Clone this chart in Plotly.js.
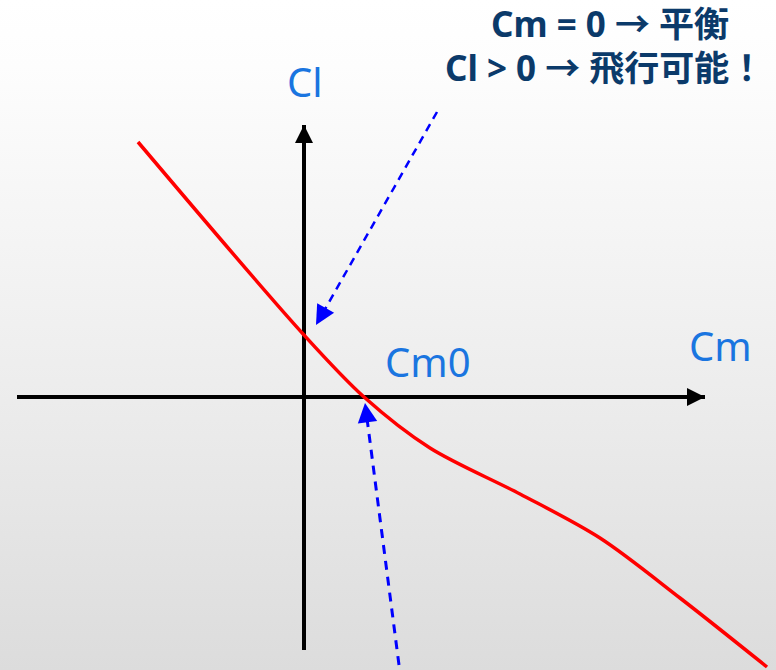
<!DOCTYPE html>
<html>
<head>
<meta charset="utf-8">
<script src="https://cdn.plot.ly/plotly-3.0.1.min.js"></script>
<style>
html,body{margin:0;padding:0;}
body{width:776px;height:670px;background:linear-gradient(to bottom,#ffffff 0%,#fdfdfd 10%,#ececec 60%,#dcdcdc 100%);}
#chart{width:776px;height:670px;}
</style>
</head>
<body>
<div id="chart"></div>
<script>
// Cm / Cl curve (arbitrary units)
const curveCm = [-1.66,0.00,0.60,1.26,2.16,2.96,3.76,4.63];
const curveCl = [2.55,0.62,0.00,-0.51,-0.97,-1.41,-2.01,-2.70];

// axes (start, tip)
const hAxisCm = [-2.87, 4.01];
const hAxisCl = [0, 0];
const vAxisCm = [0, 0];
const vAxisCl = [-2.53, 2.72];

// pointer arrows (start, tip)
const ptr1Cm = [1.33, 0.12];
const ptr1Cl = [2.85, 0.72];
const ptr2Cm = [0.95, 0.61];
const ptr2Cl = [-2.68, -0.06];

const labels = {cl:"Cl", cm:"Cm", cm0:"Cm0"};
const note1 = "Cm = 0 → 平衡";
const note2 = "Cl > 0 → 飛行可能！";

function back(a, f){ return a[1] + f*(a[0]-a[1]); }

const traces = [
  {x:hAxisCm, y:hAxisCl, mode:'lines', line:{color:'#000', width:4}, hoverinfo:'skip'},
  {x:vAxisCm, y:vAxisCl, mode:'lines', line:{color:'#000', width:4}, hoverinfo:'skip'},
  {x:[ptr1Cm[0], back(ptr1Cm,0.05)], y:[ptr1Cl[0], back(ptr1Cl,0.05)], mode:'lines', line:{color:'#0000ff', width:2.5, dash:'8px,6px'}, hoverinfo:'skip'},
  {x:[ptr2Cm[0], back(ptr2Cm,0.05)], y:[ptr2Cl[0], back(ptr2Cl,0.05)], mode:'lines', line:{color:'#0000ff', width:3, dash:'9px,7px'}, hoverinfo:'skip'},
  {x:curveCm, y:curveCl, mode:'lines', line:{color:'#ff0000', width:3.5, shape:'spline', smoothing:0.9}, hoverinfo:'skip'}
];

const headAnn = (xs, ys, color, w, size, f) => ({
  x: xs[1], y: ys[1], ax: back(xs, f), ay: back(ys, f), xref:'x', yref:'y', axref:'x', ayref:'y',
  text:'', showarrow:true, arrowhead:2, arrowsize:size, arrowwidth:w, arrowcolor:color
});

const lblFont = {family:'"Comic Sans MS","Noto Sans",sans-serif', size:40, color:'#1a75e0'};
const noteFont = {family:'"Noto Sans","Noto Sans CJK JP",sans-serif', size:35, color:'#0b3a6a', weight:'bold'};

const annotations = [
  headAnn(hAxisCm, hAxisCl, '#000', 3, 1.2, 0.02),
  headAnn(vAxisCm, vAxisCl, '#000', 3, 1.2, 0.02),
  headAnn(ptr1Cm, ptr1Cl, '#0000ff', 3, 1.3, 0.06),
  headAnn(ptr2Cm, ptr2Cl, '#0000ff', 3, 1.3, 0.05),
  {x:0.01, y:3.16, xref:'x', yref:'y', text:labels.cl, showarrow:false, font:lblFont},
  {x:4.16, y:0.52, xref:'x', yref:'y', text:labels.cm, showarrow:false, font:lblFont},
  {x:1.24, y:0.36, xref:'x', yref:'y', text:labels.cm0, showarrow:false, font:lblFont},
  {x:3.06, y:3.735, xref:'x', yref:'y', text:'<b>'+note1+'</b>', showarrow:false, font:noteFont},
  {x:3.00, y:3.30, xref:'x', yref:'y', text:'<b>'+note2+'</b>', showarrow:false, font:noteFont}
];

const layout = {
  width:776, height:670,
  margin:{l:0,r:0,t:0,b:0},
  paper_bgcolor:'rgba(0,0,0,0)', plot_bgcolor:'rgba(0,0,0,0)',
  showlegend:false,
  xaxis:{range:[-3.04,4.72], visible:false, fixedrange:true},
  yaxis:{range:[-2.73,3.97], visible:false, fixedrange:true},
  annotations:annotations
};

Plotly.newPlot('chart', traces, layout, {staticPlot:true, displayModeBar:false});
</script>
</body>
</html>
